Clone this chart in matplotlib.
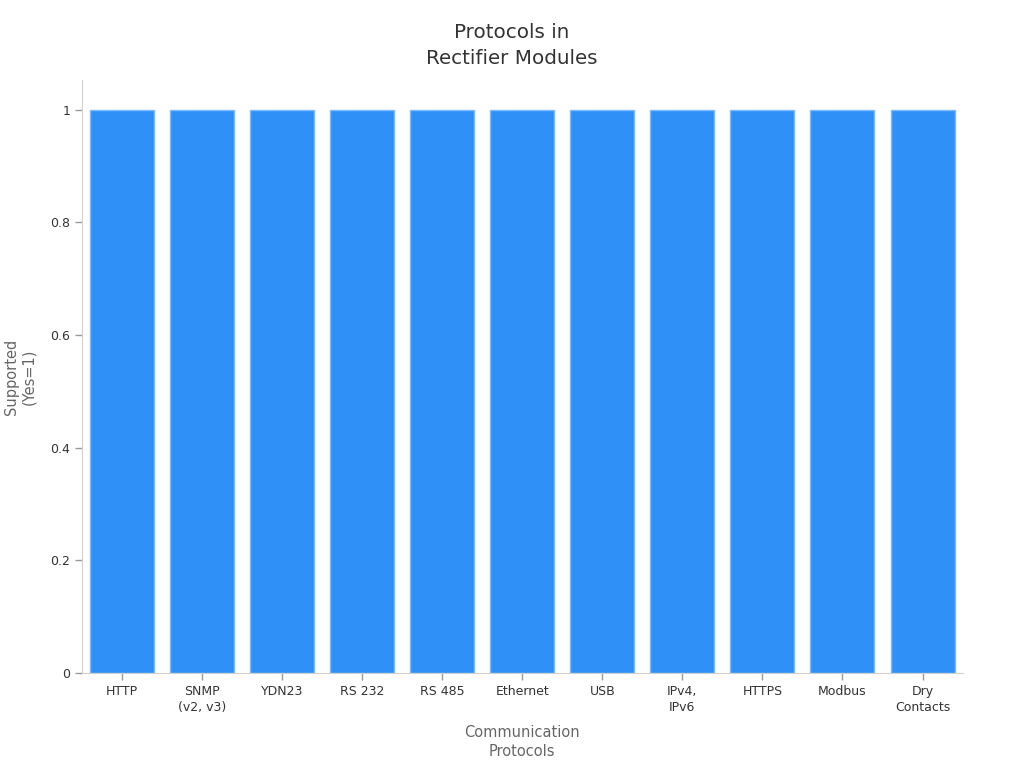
import matplotlib.pyplot as plt
import numpy as np

## Data
protocols = ["HTTP", "SNMP\n(v2, v3)", "YDN23", "RS 232", "RS 485", "Ethernet",
             "USB", "IPv4,\nIPv6", "HTTPS", "Modbus", "Dry\nContacts"]
supported = [1, 1, 1, 1, 1, 1, 1, 1, 1, 1, 1]

fig = plt.figure(figsize=(10.24, 7.68), dpi=100)
ax = fig.add_axes([0.080, 0.1237, 0.860, 0.7723])

x = np.arange(len(protocols))
ax.bar(x, supported, width=0.8, color="#2F91F8", edgecolor="#7DBBF8", linewidth=1)

ax.set_xlim(-0.5, len(protocols) - 0.5)
ax.set_ylim(0, 1.053)
ax.set_xticks(x)
ax.set_xticklabels(protocols, fontsize=9, color="#333333", linespacing=1.3)
ax.set_yticks([0, 0.2, 0.4, 0.6, 0.8, 1])
ax.set_yticklabels(["0", "0.2", "0.4", "0.6", "0.8", "1"], fontsize=9, color="#333333")
ax.tick_params(axis="both", colors="#999999", labelcolor="#333333", length=5, width=1)

for s in ["top", "right"]:
    ax.spines[s].set_visible(False)
for s in ["left", "bottom"]:
    ax.spines[s].set_color("#d0d0d0")

ax.set_xlabel("Communication\nProtocols", fontsize=10.5, color="#666666",
              labelpad=8, linespacing=1.35)
ax.set_ylabel("Supported\n(Yes=1)", fontsize=10.5, color="#666666",
              labelpad=10, linespacing=1.2)
fig.text(0.5, 0.970, "Protocols in\nRectifier Modules", fontsize=14.3, color="#333333",
         ha="center", va="top", linespacing=1.45)

plt.savefig("out.png", dpi=100)
